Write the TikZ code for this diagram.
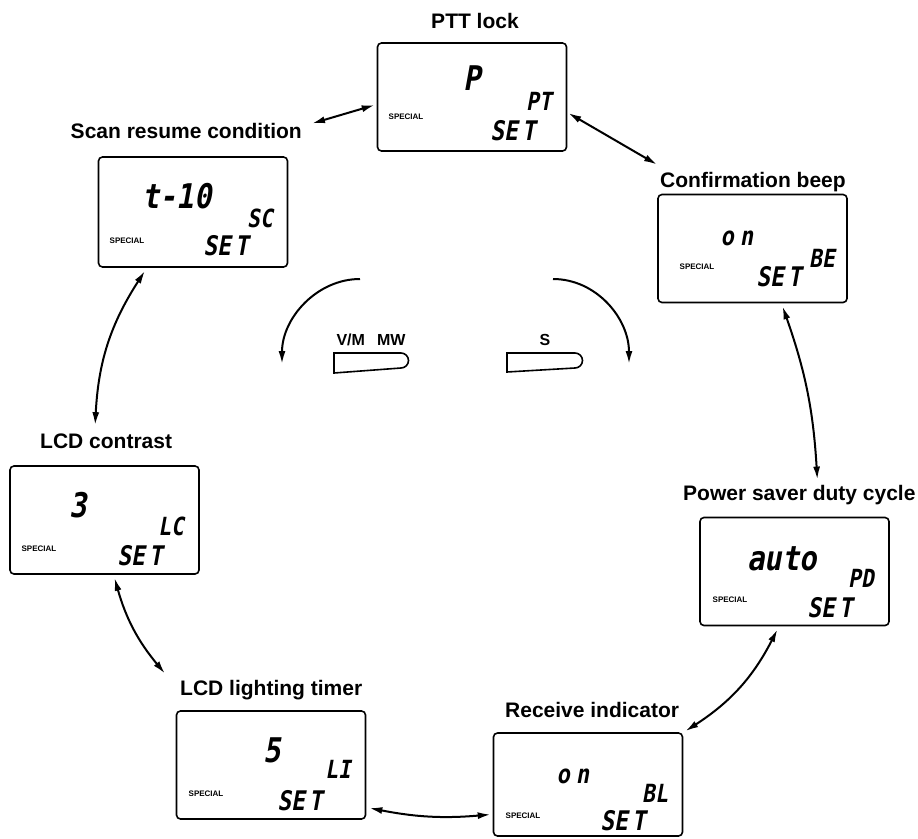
\documentclass[tikz,border=0pt]{standalone}
\usepackage{fontspec}
\setmainfont{Liberation Sans}
\newfontfamily\lcdfont{DejaVu Sans Mono}[FakeSlant=0.18, FakeStretch=0.85]
\usetikzlibrary{arrows.meta}

\begin{document}
\begin{tikzpicture}[x=1pt, y=-1pt, >={Latex[length=13pt, width=7pt]},
    lcdbox/.style={draw, line width=1.6pt, rounded corners=4pt, minimum width=189pt, minimum height=108pt, inner sep=0pt},
    menulbl/.style={font=\fontsize{21}{24}\selectfont\bfseries, inner sep=0pt},
    bigseg/.style={font=\lcdfont\bfseries\fontsize{34}{34}\selectfont, inner sep=0pt, anchor=base},
    lowseg/.style={font=\lcdfont\bfseries\fontsize{26}{26}\selectfont, inner sep=0pt, anchor=base},
    tagseg/.style={font=\lcdfont\bfseries\fontsize{25}{25}\selectfont, inner sep=0pt, anchor=base},
    setseg/.style={font=\lcdfont\bfseries\fontsize{27}{27}\selectfont, inner sep=0pt, anchor=base},
    speclbl/.style={font=\fontsize{8}{8}\selectfont\bfseries, inner sep=0pt, anchor=base},
    keylbl/.style={font=\fontsize{16}{16}\selectfont\bfseries, inner sep=0pt, anchor=base},
    link/.style={<->, line width=2pt},
    rotarr/.style={->, line width=2pt}]
    \useasboundingbox (0,0) rectangle (918,838);

    % PTT lock
    \node[menulbl, anchor=base] (pttlbl) at (475,28) {PTT lock};
    \node[lcdbox] (ptt) at (472,97) {};
    \node[bigseg] (pttval) at (472,90) {P};
    \node[tagseg] (ptttag) at (539,110) {PT};
    \node[speclbl] (pttspec) at (406,119.5) {SPECIAL};
    \node[setseg] (pttset) at (513,140) {SE\hspace{4pt}T};

    % Scan resume condition
    \node[menulbl, anchor=base east] (scanlbl) at (302,138) {Scan resume condition};
    \node[lcdbox, minimum height=110pt] (scan) at (193,212) {};
    \node[bigseg] (scanval) at (177,208) {t-10};
    \node[tagseg] (scantag) at (260,227) {SC};
    \node[speclbl] (scanspec) at (127,243) {SPECIAL};
    \node[setseg] (scanset) at (226,255) {SE\hspace{4pt}T};

    % Confirmation beep
    \node[menulbl, anchor=base west] (conflbl) at (660,187) {Confirmation beep};
    \node[lcdbox] (conf) at (752.5,248.5) {};
    \node[lowseg] (confval) at (737,245) {o\hspace{6pt}n};
    \node[tagseg] (conftag) at (822,267) {BE};
    \node[speclbl] (confspec) at (697,269) {SPECIAL};
    \node[setseg] (confset) at (779,286) {SE\hspace{4pt}T};

    % LCD contrast
    \node[menulbl, anchor=base west] (contlbl) at (40,448) {LCD contrast};
    \node[lcdbox] (cont) at (104.5,520) {};
    \node[bigseg] (contval) at (78,517) {3};
    \node[tagseg] (conttag) at (171,535) {LC};
    \node[speclbl] (contspec) at (39,551) {SPECIAL};
    \node[setseg] (contset) at (140,565) {SE\hspace{4pt}T};

    % Power saver duty cycle
    \node[menulbl, anchor=base west] (powlbl) at (683,500) {Power saver duty cycle};
    \node[lcdbox] (pow) at (794.5,571.5) {};
    \node[bigseg] (powval) at (782,570) {auto};
    \node[tagseg] (powtag) at (861,587) {PD};
    \node[speclbl] (powspec) at (730,602) {SPECIAL};
    \node[setseg] (powset) at (830,617) {SE\hspace{4pt}T};

    % LCD lighting timer
    \node[menulbl, anchor=base west] (litelbl) at (180,695) {LCD lighting timer};
    \node[lcdbox] (lite) at (271,765) {};
    \node[bigseg] (liteval) at (272,762) {5};
    \node[tagseg] (litetag) at (338,778) {LI};
    \node[speclbl] (litespec) at (206,796) {SPECIAL};
    \node[setseg] (liteset) at (300,810) {SE\hspace{4pt}T};

    % Receive indicator
    \node[menulbl, anchor=base west] (reclbl) at (505,717) {Receive indicator};
    \node[lcdbox, minimum height=103pt] (rec) at (588,784.5) {};
    \node[lowseg] (recval) at (573,783) {o\hspace{6pt}n};
    \node[tagseg] (rectag) at (655,802) {BL};
    \node[speclbl] (recspec) at (523,818) {SPECIAL};
    \node[setseg] (recset) at (623,830) {SE\hspace{4pt}T};

    % Links between the menus
    \draw[link] ([shift={(10,-7)}]scanlbl.east) -- ([shift={(-2,8)}]ptt.west);
    \draw[link] ([shift={(1,16)}]ptt.east) -- ([shift={(-3,-7)}]conflbl.north west);
    \draw[link] ([shift={(30,3)}]conf.south) to[bend left=8] ([shift={(18,-5)}]powlbl.north);
    \draw[link] ([shift={(-17,3)}]pow.south) to[bend left=15] ([shift={(2,-1)}]rec.north east);
    \draw[link] ([shift={(-2,30)}]rec.west) to[bend left=8] ([shift={(3,43)}]lite.east);
    \draw[link] ([shift={(10,3)}]cont.south) to[bend right=12] ([shift={(-15,-16)}]litelbl.west);
    \draw[link] ([shift={(-48,3)}]scan.south) to[bend right=15] ([shift={(-11,-8)}]contlbl.north);

    % Keys and turning arrows
    \node[keylbl] (vmlbl) at (371,345) {V/M\hspace{12pt}MW};
    \node[keylbl] (slbl) at (545,345) {S};
    \draw[line width=1.6pt] (334,353) -- (401,353) arc[start angle=90, end angle=-90, radius=7.5pt] -- (334,373) -- cycle;
    \draw[line width=1.6pt] (507,353) -- (575,353) arc[start angle=90, end angle=-90, radius=7.5pt] -- (507,372) -- cycle;
    \coordinate (vmtop) at (360,279);
    \coordinate (vmend) at (282,364);
    \coordinate (stop) at (553,279);
    \coordinate (send) at (629,364);
    \draw[rotarr] (vmtop) .. controls +(-43,0) and +(0,-46) .. (vmend);
    \draw[rotarr] (stop) .. controls +(43,0) and +(0,-46) .. (send);
  \end{tikzpicture}
\end{document}
